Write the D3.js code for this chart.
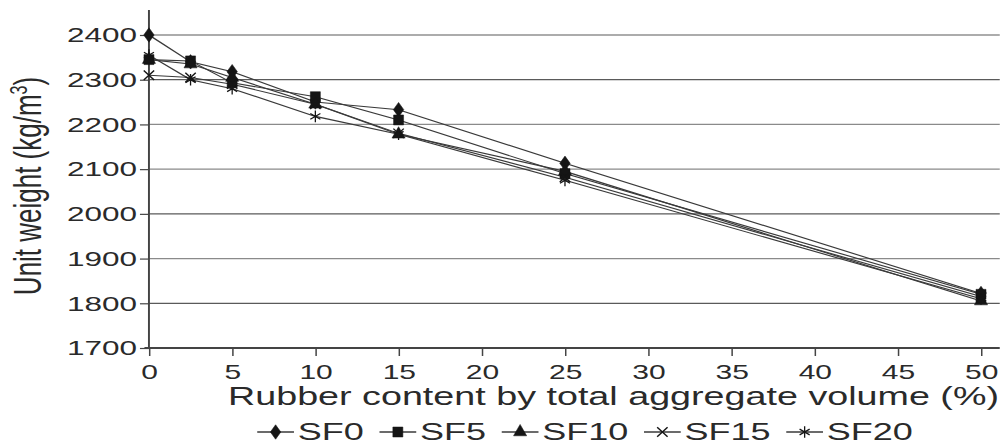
<!DOCTYPE html>
<html>
<head>
<meta charset="utf-8">
<script src="https://cdn.jsdelivr.net/npm/d3@7"></script>
<style>
  html, body { margin: 0; padding: 0; background: #fff; }
  svg { display: block; }
  text { font-family: "Liberation Sans", Arial, Helvetica, sans-serif; fill: #2a2a2a; }
</style>
</head>
<body>
<svg id="chart"></svg>
<script>
// Rubber content (% of total aggregate volume) and unit weight (kg/m3) per silica-fume mix
const rubber = [0, 2.5, 5, 10, 15, 25, 50];
const sf0  = [2400, 2340, 2318, 2250, 2233, 2113, 1822];
const sf5  = [2345, 2342, 2293, 2262, 2210, 2090, 1820];
const sf10 = [2345, 2335, 2305, 2245, 2178, 2095, 1805];
const sf15 = [2310, 2305, 2290, 2245, 2180, 2082, 1815];
const sf20 = [2355, 2300, 2280, 2218, 2178, 2075, 1810];
const seriesNames = ["SF0", "SF5", "SF10", "SF15", "SF20"];
const xTicks = [0, 5, 10, 15, 20, 25, 30, 35, 40, 45, 50];
const yTicks = [1700, 1800, 1900, 2000, 2100, 2200, 2300, 2400];

const seriesValues = [sf0, sf5, sf10, sf15, sf20];
const series = seriesNames.map((name, i) => ({
  name,
  points: rubber.map((r, j) => ({ x: r, y: seriesValues[i][j] }))
}));

// The figure is drawn in a narrower coordinate space and widened to the page,
// giving the wide, horizontally stretched look of the plot.
const PX_W = 1003, PX_H = 447, STRETCH = 1.5;
const VW = PX_W / STRETCH;

const svg = d3.select("#chart")
  .attr("width", PX_W)
  .attr("height", PX_H)
  .attr("viewBox", `0 0 ${VW} ${PX_H}`)
  .attr("preserveAspectRatio", "none");

const plotLeft = 99.3, xEnd = 654, plotRight = 666.5, axisTop = 10;
const yTop = 35, yBottom = 348;

const x = d3.scaleLinear().domain([0, 50]).range([plotLeft, xEnd]);
const y = d3.scaleLinear().domain([1700, 2400]).range([yBottom, yTop]);

// horizontal grid lines
svg.append("g")
  .selectAll("line")
  .data(yTicks.filter(v => v > 1700))
  .join("line")
  .attr("x1", plotLeft).attr("x2", plotRight)
  .attr("y1", d => y(d)).attr("y2", d => y(d))
  .attr("stroke", d => (d === 2400 || d === 2300 || d === 2000 || d === 1800) ? "#5a5a5a" : "#8a8a8a")
  .attr("stroke-width", 1.2);

// y axis
const yAxis = svg.append("g")
  .attr("transform", `translate(${plotLeft},0)`)
  .call(d3.axisLeft(y).tickValues(yTicks).tickSize(6).tickPadding(2).tickFormat(d3.format("d")));
yAxis.select(".domain").remove();
yAxis.selectAll(".tick line").attr("stroke", "#444").attr("stroke-width", 1.2);
yAxis.selectAll(".tick text").attr("font-size", 21).style("font-family", "Liberation Sans, Arial, sans-serif").attr("fill", "#2a2a2a");
svg.append("line")
  .attr("x1", plotLeft).attr("x2", plotLeft).attr("y1", axisTop).attr("y2", yBottom + 1)
  .attr("stroke", "#444").attr("stroke-width", 1.3);

// x axis
const xAxis = svg.append("g")
  .attr("transform", `translate(0,${yBottom})`)
  .call(d3.axisBottom(x).tickValues(xTicks).tickSize(8).tickPadding(9).tickFormat(d3.format("d")));
xAxis.select(".domain").remove();
xAxis.selectAll(".tick line").attr("stroke", "#444").attr("stroke-width", 1);
xAxis.selectAll(".tick text").attr("font-size", 20).style("font-family", "Liberation Sans, Arial, sans-serif").attr("fill", "#2a2a2a");
svg.append("line")
  .attr("x1", plotLeft - 3).attr("x2", plotRight).attr("y1", yBottom).attr("y2", yBottom)
  .attr("stroke", "#444").attr("stroke-width", 1.8);

// marker shapes, kept undistorted on the page by undoing the stretch
const symbolTimes = d3.symbolTimes || d3.symbolX;
const markers = {
  SF0:  { type: d3.symbolDiamond, size: 60, filled: true, sx: 1.25 },
  SF5:  { type: d3.symbolSquare, size: 100, filled: true, sx: 1 },
  SF10: { type: d3.symbolTriangle, size: 75, filled: true, sx: 1 },
  SF15: { type: symbolTimes, size: 60, filled: false, sx: 1.1 },
  SF20: { type: d3.symbolAsterisk, size: 95, filled: false, sx: 1 }
};
function drawMarker(g, name, cx, cy) {
  const m = markers[name];
  g.append("path")
    .attr("d", d3.symbol().type(m.type).size(m.size)())
    .attr("transform", `translate(${cx},${cy}) scale(${m.sx / STRETCH},1)`)
    .attr("fill", m.filled ? "#151515" : "none")
    .attr("stroke", "#151515")
    .attr("stroke-width", m.filled ? 0.5 : 1.3);
}

// series lines and markers
const line = d3.line().x(d => x(d.x)).y(d => y(d.y));
const plot = svg.append("g");
series.forEach(s => {
  plot.append("path")
    .datum(s.points)
    .attr("d", line)
    .attr("fill", "none")
    .attr("stroke", "#3a3a3a")
    .attr("stroke-width", 1.1);
});
series.forEach(s => {
  const g = plot.append("g");
  s.points.forEach(p => drawMarker(g, s.name, x(p.x), y(p.y)));
});

// axis titles
svg.append("text")
  .attr("x", 409).attr("y", 405)
  .attr("text-anchor", "middle")
  .attr("font-size", 25)
  .attr("textLength", 514)
  .attr("lengthAdjust", "spacingAndGlyphs")
  .text("Rubber content by total aggregate volume (%)");

const yTitle = svg.append("text")
  .attr("transform", "translate(27,186) rotate(-90)")
  .attr("text-anchor", "middle")
  .attr("font-size", 26);
yTitle.append("tspan").text("Unit weight (kg/m");
yTitle.append("tspan").attr("font-size", 16).attr("dy", -9).text("3");
yTitle.append("tspan").attr("dy", 9).text(")");

// legend
const legendY = 432, segLen = 24.5, segGap = 2.5, itemGap = 10.5, legendCenter = 390;
const legend = svg.append("g");
let cursor = 0;
seriesNames.forEach(name => {
  const g = legend.append("g");
  g.append("line")
    .attr("x1", cursor).attr("x2", cursor + segLen)
    .attr("y1", legendY).attr("y2", legendY)
    .attr("stroke", "#3a3a3a").attr("stroke-width", 1.3);
  drawMarker(g, name, cursor + segLen / 2, legendY);
  const t = g.append("text")
    .attr("x", cursor + segLen + segGap)
    .attr("y", legendY + 8.5)
    .attr("font-size", 24)
    .text(name);
  cursor += segLen + segGap + t.node().getComputedTextLength() + itemGap;
});
const legendWidth = cursor - itemGap;
legend.attr("transform", `translate(${legendCenter - legendWidth / 2},0)`);
</script>
</body>
</html>
